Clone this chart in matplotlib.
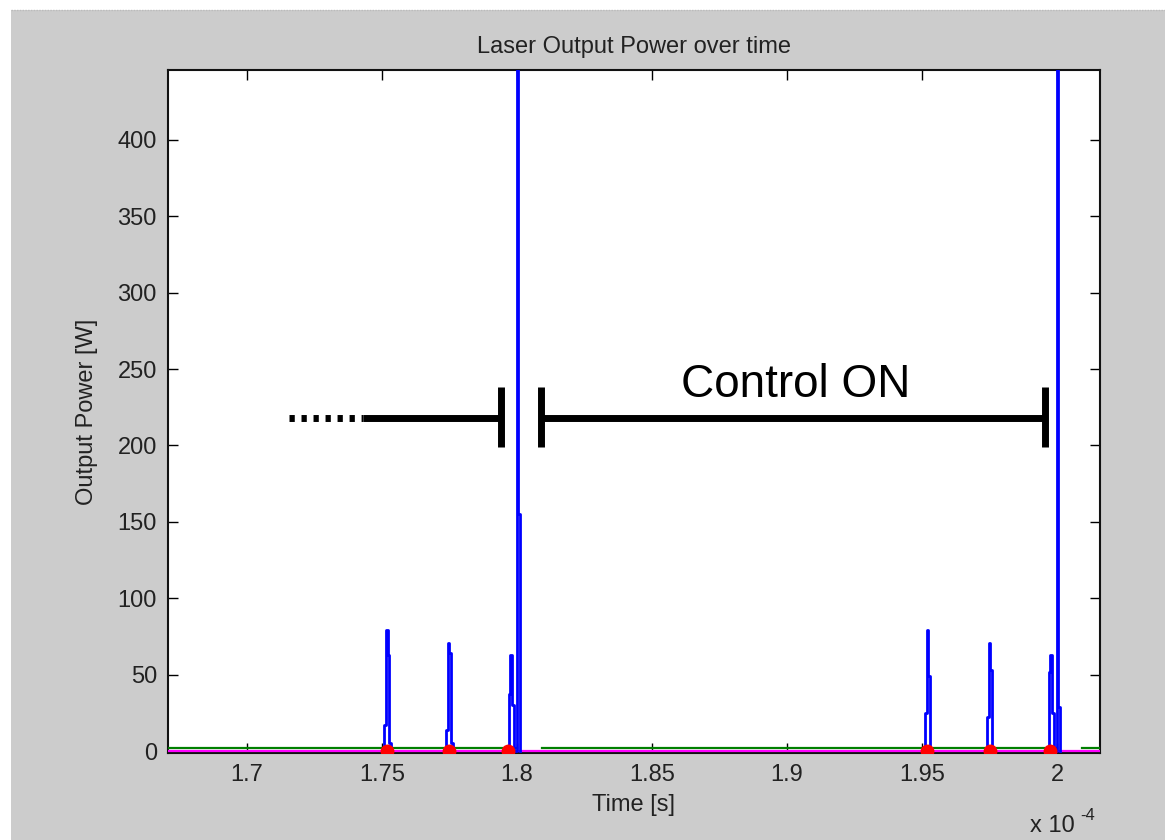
import matplotlib
matplotlib.use('Agg')
import matplotlib.pyplot as plt
import numpy as np
from matplotlib.patches import Rectangle
from matplotlib.lines import Line2D

plt.rcParams['font.family'] = ['Liberation Sans', 'DejaVu Sans']
plt.rcParams['axes.unicode_minus'] = False

# ---------------- data (time in units of 1e-4 s) ----------------
cluster_starts = [1.75025, 1.77315, 1.7963, 1.9505, 1.9735, 1.9963]
sample_step = 0.0006
cluster_powers = [
    [0, 17, 79, 63, 5, 0],
    [0, 14, 71, 64, 5, 0],
    [0, 37, 63, 30, 0, 0, 2000, 155, 0],
    [0, 25, 79, 49, 0],
    [0, 22, 71, 53, 0],
    [0, 52, 63, 25, 0, 0, 2000, 29, 0],
]
control_times = [1.7517, 1.7746, 1.7966, 1.9518, 1.9751, 1.9974]
green_spans = [(1.66, 1.7999), (1.8092, 1.9999), (2.0092, 2.03)]
green_level = 2.3
magenta_span = (1.66, 2.03)
magenta_level = 0.0

xticks = [1.7, 1.75, 1.8, 1.85, 1.9, 1.95, 2.0]
xtick_labels = ['1.7', '1.75', '1.8', '1.85', '1.9', '1.95', '2']
yticks = [0, 50, 100, 150, 200, 250, 300, 350, 400]

# annotation (data coords)
dotted_x = (1.7155, 1.7429)
left_solid_x = (1.7429, 1.7940)
bar_x = [1.7940, 1.8087, 1.9955]
right_solid_x = (1.8087, 1.9955)
bar_y = (199, 238)
arrow_y = 218
label_text = 'Control ON'
label_pos = (1.9033, 239.5)

# ---------------- figure ----------------
W, H = 1165, 840
fig = plt.figure(figsize=(W / 100, H / 100), dpi=100, facecolor='white')
fig.patches.append(Rectangle((11 / W, 0), 1 - 11 / W, 1 - 10 / H,
                             transform=fig.transFigure, facecolor='#cccccc',
                             edgecolor='none', zorder=-10))
fig.lines.append(Line2D([11 / W, 1], [1 - 9.5 / H, 1 - 9.5 / H],
                        transform=fig.transFigure, color='#bbbbbb', lw=1,
                        linestyle=(0, (1, 1)), zorder=-9))

ax = fig.add_axes([168 / W, (H - 753) / H, (1100 - 168) / W, (753 - 70) / H])
ax.set_facecolor('white')

# blue trace (sampled, held between samples)
for s, pw in zip(cluster_starts, cluster_powers):
    t = [s + sample_step * i for i in range(len(pw))]
    ax.plot(t, pw, color='#0000ff', lw=2.0, zorder=4, drawstyle='steps-post')

# green and magenta lines
for a, b in green_spans:
    ax.plot([a, b], [green_level, green_level], color='#008000', lw=1.6, zorder=3)
ax.plot(list(magenta_span), [magenta_level, magenta_level], color='#ff00ff', lw=1.6, zorder=3)

# red markers
ax.plot(control_times, [0] * len(control_times), 'o', color='#ff0000', ms=9,
        mec='#ff0000', zorder=5, clip_on=True)

# annotation
ax.plot(dotted_x, [arrow_y, arrow_y], color='black', lw=5,
        linestyle=(0, (0.76, 0.97)), dash_capstyle='butt', zorder=6)
ax.plot(left_solid_x, [arrow_y, arrow_y], color='black', lw=5,
        solid_capstyle='butt', zorder=6)
ax.plot(right_solid_x, [arrow_y, arrow_y], color='black', lw=5,
        solid_capstyle='butt', zorder=6)
for bx in bar_x:
    ax.plot([bx, bx], list(bar_y), color='black', lw=5,
            solid_capstyle='butt', zorder=6)
ax.text(label_pos[0], label_pos[1], label_text, fontsize=33,
        ha='center', va='center', color='black', zorder=7)

ax.set_xlim(1.6707, 2.0159)
ax.set_ylim(-1.3, 445.8)
ax.set_xticks(xticks)
ax.set_xticklabels(xtick_labels)
ax.set_yticks(yticks)
ax.tick_params(direction='in', length=7.5, width=1, top=True, right=True,
               labelsize=17, pad=8, colors='black', labelcolor='#222222')
for sp in ax.spines.values():
    sp.set_linewidth(1.5)
    sp.set_color('#111111')

ax.set_title('Laser Output Power over time', fontsize=17, pad=12, color='#222222')
ax.set_xlabel('Time [s]', fontsize=17, labelpad=6, color='#222222')
ax.set_ylabel('Output Power [W]', fontsize=17, labelpad=14, color='#222222')

fig.text(1030 / W, 1 - 832 / H, 'x 10', fontsize=17,
         ha='left', va='baseline', color='#222222')
fig.text(1080 / W, 1 - 820 / H, '-4', fontsize=12,
         ha='left', va='baseline', color='#222222')

fig.savefig('out.png', dpi=100, facecolor=fig.get_facecolor())
